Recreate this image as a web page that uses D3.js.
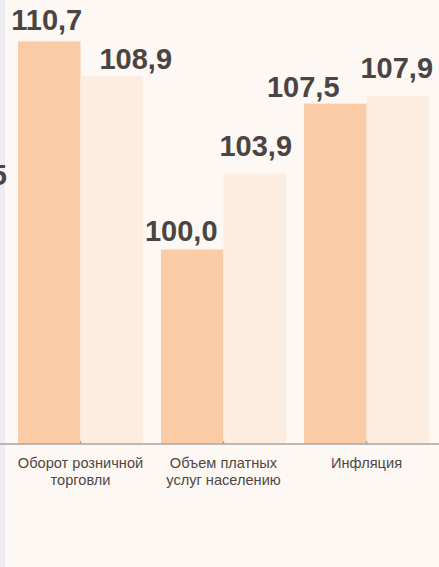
<!DOCTYPE html>
<html>
<head>
<meta charset="utf-8">
<script src="https://cdn.jsdelivr.net/npm/d3@7"></script>
<style>
  html, body { margin: 0; padding: 0; background: #fdf8f4; }
  svg { display: block; font-family: "Liberation Sans", Arial, sans-serif; }
</style>
</head>
<body>
<div id="stage"></div>
<script>
// data
const categories = ["Оборот розничной торговли", "Объем платных услуг населению", "Инфляция"];
const seriesNames = ["prev", "curr"];
const prevValues = [110.7, 100.0, 107.5];
const currValues = [108.9, 103.9, 107.9];

// label nudges (the labels were moved by hand in the source)
const labelShift = {
  prev: [[-2.5, -11], [-11, -9], [-32, -7]],
  curr: [[24, -7], [1, -18], [-1, -18]]
};

const W = 439, H = 567;
const colors = { prev: "#fbcba6", curr: "#fdece0" };
const fmt = v => d3.format(".1f")(v).replace(".", ",");

const svg = d3.select("#stage").append("svg")
  .attr("width", W)
  .attr("height", H);

svg.append("rect").attr("width", W).attr("height", H).attr("fill", "#fdf8f4");
svg.append("rect").attr("width", 5).attr("height", H).attr("fill", "#eeebf3");

const x0 = d3.scaleBand().domain(categories).range([9, 438]).paddingInner(0.126).paddingOuter(0.063);
const x1 = d3.scaleBand().domain(seriesNames).range([0, x0.bandwidth()]);
const y = d3.scaleLinear().domain([90, 110]).range([444, 55]);

const rows = categories.map((c, i) => ({ cat: c, i, prev: prevValues[i], curr: currValues[i] }));

const groups = svg.selectAll("g.grp")
  .data(rows)
  .join("g")
  .attr("class", "grp")
  .attr("transform", d => `translate(${x0(d.cat)},0)`);

groups.selectAll("rect")
  .data(d => seriesNames.map(s => ({ s, v: d[s] })))
  .join("rect")
  .attr("x", d => x1(d.s))
  .attr("width", x1.bandwidth())
  .attr("y", d => y(d.v))
  .attr("height", d => y(90) - y(d.v))
  .attr("fill", d => colors[d.s]);

groups.selectAll("text.val")
  .data(d => seriesNames.map(s => ({ s, v: d[s], sh: labelShift[s][d.i] })))
  .join("text")
  .attr("class", "val")
  .attr("x", d => x1(d.s) + x1.bandwidth() / 2 + d.sh[0])
  .attr("y", d => y(d.v) + d.sh[1])
  .attr("text-anchor", "middle")
  .attr("font-size", 29)
  .attr("font-weight", "bold")
  .attr("fill", "#4a4542")
  .text(d => fmt(d.v));

// clipped label on the left edge (cut off in the source too)
svg.append("text")
  .attr("x", 7).attr("y", 185)
  .attr("text-anchor", "end")
  .attr("font-size", 29)
  .attr("font-weight", "bold")
  .attr("fill", "#4a4542")
  .text("5");

// axis
svg.append("line")
  .attr("x1", 0).attr("x2", W)
  .attr("y1", 444).attr("y2", 444)
  .attr("stroke", "#a9a5a2")
  .attr("stroke-width", 1.5);

const axis = svg.append("g")
  .attr("transform", "translate(0,444)")
  .call(d3.axisBottom(x0).tickSize(-3).tickSizeOuter(0));

axis.select(".domain").remove();
axis.selectAll(".tick line").attr("stroke", "#a9a5a2").attr("stroke-width", 1.5);
axis.selectAll(".tick text")
  .attr("font-size", 14.6)
  .attr("font-family", "\"Liberation Sans\", Arial, sans-serif")
  .attr("fill", "#4d4845")
  .each(function (d) {
    const t = d3.select(this);
    const words = d.split(" ");
    t.text(null);
    let line = [];
    let lineNo = 0;
    let ts = t.append("tspan").attr("x", 0).attr("y", 24);
    words.forEach(w => {
      line.push(w);
      ts.text(line.join(" "));
      if (ts.node().getComputedTextLength() > 135 && line.length > 1) {
        line.pop();
        ts.text(line.join(" "));
        line = [w];
        lineNo++;
        ts = t.append("tspan").attr("x", 0).attr("y", 24 + lineNo * 17).text(w);
      }
    });
  })
  .attr("dy", null);
</script>
</body>
</html>
